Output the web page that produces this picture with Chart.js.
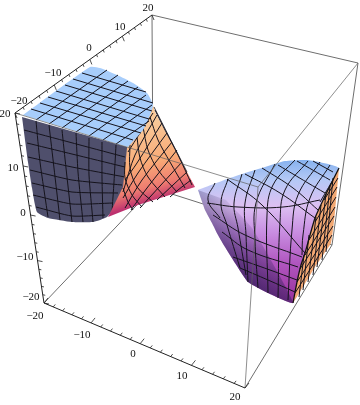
<!DOCTYPE html>
<html>
<head>
<meta charset="utf-8">
<style>
  html, body { margin: 0; background: #fff; }
  canvas { display: block; }
</style>
<script src="https://cdn.jsdelivr.net/npm/chart.js@4/dist/chart.umd.js"></script>
</head>
<body>
<canvas id="chartCono" width="360" height="405"></canvas>
<script>
const cornerLeftTop = [15, 113], cornerBackTop = [152, 15], cornerRightTop = [358, 63]
const cornerFrontTop = [258, 187], cornerLeftBottom = [44, 303], cornerFrontBottom = [245, 388]
const cornerRightBottom = [332, 245], cornerBackBottom = [153, 188]

const tickValues = [-20, -18, -16, -14, -12, -10, -8, -6, -4, -2, 0, 2, 4, 6, 8, 10, 12, 14, 16, 18, 20]
const majorTicks = [-20, -15, -10, -5, 0, 5, 10, 15, 20]

const labelsTop = [['20', 148, 8], ['10', 120, 27], ['0', 89, 48], ['\u221210', 53, 73], ['\u221220', 19, 101]]
const labelsLeft = [['20', 5, 114], ['10', 13, 168], ['0', 23, 213], ['\u221210', 25, 257], ['\u221220', 31, 297]]
const labelsBottom = [['\u221220', 35, 316], ['\u221210', 82, 335], ['0', 133, 354], ['10', 182, 376], ['20', 235, 397]]

const topFace = [[23,115],[90,67],[100,68],[117,75],[133,83],[147,93],[153,105],[150,115],[143,130],[128,147]]
const topGrid = [
  [[36,120],[107,70]], [[49,124],[118,75]], [[62,128],[128,81]], [[76,132],[138,87]],
  [[89,136],[146,95]], [[103,140],[152,105]], [[116,144],[149,121]],
  [[31,109],[133,140]], [[40,103],[141,133]], [[48,97],[146,126]], [[56,91],[149,119]],
  [[65,85],[152,111]], [[73,79],[153,103]], [[82,73],[146,92]]
]

const darkFace = [[22,117],[28,162],[32,188],[37,212],[48,218],[72,222],[93,222],[107,217],[122,198],[127,172],[127,147]]
const darkGrid = [
  [[24,130],[125,157]], [[27,143],[125,167]], [[28,157],[72,167],[125,177]], [[30,170],[72,180],[122,185]],
  [[32,183],[72,192],[118,193]], [[33,195],[72,204],[113,203]], [[36,207],[72,216],[105,215]],
  [[36,121],[40,162],[48,217]], [[49,125],[54,168],[60,220]], [[62,130],[66,168],[72,222]],
  [[76,133],[78,172],[83,222]], [[89,138],[89,175],[93,222]], [[102,142],[102,178],[103,218]],
  [[116,145],[114,182],[112,212]]
]

const orangeCone = [[127,148],[153,105],[155,112],[195,187],[138,205],[108,217],[123,187]]
const orangeRim = [[154,107],[187,172]]
const orangeGrid = [
  [[153,113],[140,133],[128,152]],
  [[157,115],[135,155],[123,192]],
  [[162,123],[137,163],[125,180]],
  [[167,133],[138,173],[123,198]],
  [[172,142],[142,180],[125,208]],
  [[177,150],[147,188],[131,210]],
  [[182,162],[150,197],[140,208]],
  [[187,172],[173,185],[157,200]],
  [[191,180],[178,190],[170,197]],
  [[123,188],[128,202],[133,210]],
  [[125,162],[125,178],[132,195],[142,207]],
  [[130,145],[130,168],[137,187],[153,202]],
  [[137,137],[140,158],[148,177],[165,197]],
  [[143,127],[148,150],[158,170],[177,192]],
  [[150,117],[158,140],[170,162],[185,188]],
  [[155,110],[165,130],[178,155],[192,185]]
]

const purpleEdge = [[198,190],[205,210],[212,223],[218,235],[225,247],[235,263],[248,282],[268,293],[293,303]]
const purpleCone = [[198,190],[227,179],[245,173],[265,167],[285,161],[308,160],[339,168],[327,192],[315,218],[305,253],[301,265],[297,282],[293,303],
  [268,293],[248,282],[235,263],[225,247],[218,235],[212,223],[205,210]]
const purpleShade = [...purpleEdge, [272,262], [252,228], [226,200]]
const purpleGrid = [
  [[313,161],[333,172]],
  [[297,161],[330,180]],
  [[278,165],[308,183],[325,193]],
  [[262,168],[293,188],[318,210]],
  [[245,174],[280,193],[315,218]],
  [[227,179],[262,205],[305,253]],
  [[207,203],[238,207],[283,207],[320,200]],
  [[213,215],[245,235],[302,257]],
  [[222,232],[248,250],[298,267]],
  [[233,257],[270,270],[297,280]],
  [[240,268],[268,280],[295,292]],
  [[337,173],[320,202]],
  [[330,165],[310,198],[303,235],[302,255]],
  [[320,162],[298,195],[292,230],[288,300]],
  [[308,161],[285,190],[280,222],[278,298]],
  [[295,160],[273,185],[267,215],[268,293]],
  [[275,164],[256,203],[255,240],[258,288]],
  [[255,170],[245,203],[246,235],[248,282]],
  [[242,174],[234,203],[238,228],[246,275]],
  [[228,179],[221,203],[227,225],[240,268]],
  [[215,183],[208,200],[220,218]]
]

const rightEdge = [[339,168],[327,192],[315,218],[305,253],[301,265],[297,282],[293,303]]
const rightFace = [[339,168],[335,212],[331,243],[315,267],[293,303],[297,282],[301,265],[305,253],[315,218],[327,192]]
const rightGrid = [
  [[326,252],[333,178]], [[322,260],[330,186]], [[317,267],[326,194]], [[313,275],[321,205]],
  [[308,282],[316,217]], [[303,290],[309,235]], [[299,297],[304,255]],
  [[338,178],[324,200]], [[337,187],[315,222]], [[336,197],[309,240]], [[335,207],[305,255]],
  [[334,216],[300,269]], [[333,226],[297,282]], [[332,235],[295,293]]
]

const canvas = document.getElementById('chartCono')
const context = canvas.getContext('2d')

const linear = (x0, y0, x1, y1, stops) => {
  const g = context.createLinearGradient(x0, y0, x1, y1)
  stops.forEach(([at, color]) => g.addColorStop(at, color))
  return g
}

const toData = (points) => points.map(([x, y]) => ({ x, y }))

const area = (points, color, tension = 0) => ({
  data: toData(points), showLine: true, fill: 'shape', backgroundColor: color,
  borderWidth: 0, pointRadius: 0, tension
})

const stroke = (points, color, width = 1, tension = 0) => ({
  data: toData(points), showLine: true, fill: false, borderColor: color,
  borderWidth: width, pointRadius: 0, tension
})

// ticks sit along each black axis, spacing squeezed a little by the perspective
const along = (from, to, squeeze, value) => {
  const t = (value + 20) / 40
  const f = t / (t + squeeze * (1 - t))
  return [from[0] + (to[0] - from[0]) * f, from[1] + (to[1] - from[1]) * f]
}

const tickLines = (from, to, squeeze, dir) => tickValues.map(v => {
  const p = along(from, to, squeeze, v)
  const k = majorTicks.includes(v) ? 1 : 0.5
  return stroke([p, [p[0] + dir[0] * k, p[1] + dir[1] * k]], '#222', 0.8)
})

const GRAY = '#6e6e6e'
const OVER = 'rgba(95,95,95,0.7)'
const MESH = '#15131c'

const capas = [
  // hidden box edges first
  stroke([cornerBackTop, cornerRightTop], GRAY),
  stroke([cornerRightTop, cornerRightBottom], GRAY),
  stroke([cornerBackTop, cornerBackBottom], GRAY),
  stroke([cornerBackBottom, cornerLeftBottom], GRAY),
  stroke([cornerBackBottom, cornerRightBottom], GRAY),
  stroke([cornerRightBottom, cornerFrontBottom], GRAY),

  area(darkFace, '#4f4f6c', 0.15),
  ...darkGrid.map(l => stroke(l, MESH, 1, 0.2)),

  area(orangeCone, linear(145, 125, 166, 198, [[0, '#f8c898'], [0.5, '#f9aa76'], [0.8, '#ee7c70'], [1, '#bd306f']])),
  ...orangeGrid.map(l => stroke(l, MESH, 1, 0.3)),
  stroke(orangeRim, MESH, 0.8),

  area(topFace, '#a7cdfb', 0.2),
  ...topGrid.map(l => stroke(l, MESH, 1)),

  area(purpleCone, linear(0, 160, 0, 303, [[0, '#86b2ee'], [0.14, '#b5c9f6'], [0.32, '#dcc0f2'], [0.5, '#c98fe2'], [0.72, '#b056bf'], [1, '#98309c']]), 0.15),
  area(purpleShade, linear(222, 262, 260, 222, [[0, 'rgba(40,30,85,0.75)'], [1, 'rgba(40,30,85,0)']]), 0.15),
  ...purpleGrid.map(l => stroke(l, MESH, 1, 0.4)),

  area(rightFace, '#f2a873', 0.1),
  ...rightGrid.map(l => stroke(l, MESH, 1)),
  stroke(rightEdge, '#111', 1.3, 0.15),

  // front box edges lie over the surface
  stroke([cornerLeftTop, cornerFrontTop], OVER),
  stroke([cornerFrontTop, cornerRightTop], OVER),
  stroke([cornerFrontTop, cornerFrontBottom], OVER),

  stroke([cornerLeftTop, cornerBackTop], '#222'),
  stroke([cornerLeftTop, cornerLeftBottom], '#222'),
  stroke([cornerLeftBottom, cornerFrontBottom], '#222'),
  ...tickLines(cornerLeftTop, cornerBackTop, 0.83, [2, 5]),
  ...tickLines(cornerLeftBottom, cornerLeftTop, 1.16, [5, 1]),
  ...tickLines(cornerLeftBottom, cornerFrontBottom, 1.09, [4, -5])
]

const axisText = {
  id: 'axisText',
  afterDatasetsDraw(chart) {
    const { ctx, scales } = chart
    ctx.save()
    ctx.font = '11px "Liberation Serif"'
    ctx.fillStyle = '#111'
    ctx.textAlign = 'center'
    ctx.textBaseline = 'middle'
    ;[...labelsTop, ...labelsLeft, ...labelsBottom].forEach(([text, x, y]) => {
      ctx.fillText(text, scales.x.getPixelForValue(x), scales.y.getPixelForValue(y))
    })
    ctx.restore()
  }
}

const chartCono = new Chart(context, {
  type: 'scatter',
  data: { datasets: capas.map((c, i) => ({ ...c, order: capas.length - i, clip: false })) },
  options: {
    responsive: false,
    animation: false,
    layout: { padding: 0 },
    scales: {
      x: { type: 'linear', min: 0, max: 360, display: false },
      y: { type: 'linear', min: 0, max: 405, reverse: true, display: false }
    },
    plugins: { legend: { display: false }, tooltip: { enabled: false } }
  },
  plugins: [axisText]
})
</script>
</body>
</html>
